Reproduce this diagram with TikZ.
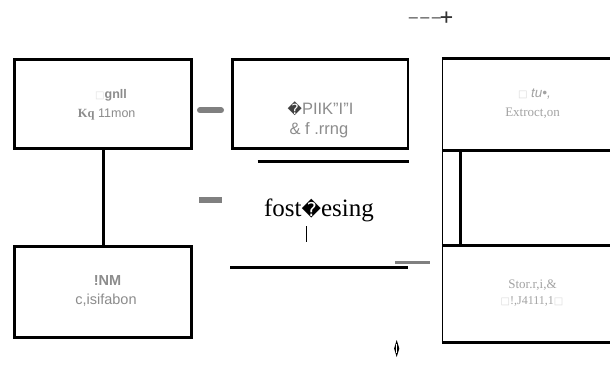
\documentclass[tikz,border=0pt]{standalone}
\usepackage{fontspec}
\setmainfont{Liberation Serif}
\setsansfont{Liberation Sans}
\newfontfamily\dejavu{DejaVu Sans}
\newfontfamily\dejavumono{DejaVu Sans Mono}
\definecolor{txtgray}{HTML}{8C8C8C}
\definecolor{lightgray}{HTML}{A2A2A2}
\definecolor{bargray}{HTML}{808080}
\begin{document}
\begin{tikzpicture}[x=1pt,y=-1pt,
  box/.style={draw=black, line width=3pt, inner sep=0pt, fill=white},
  boxtext/.style={anchor=base, inner sep=0pt, text=txtgray, font=\sffamily\fontsize{12.5}{15}\selectfont},
  coltext/.style={anchor=base, inner sep=0pt, text=lightgray, font=\rmfamily\fontsize{13}{15}\selectfont},
  thickline/.style={line width=3pt},
  thinline/.style={line width=1.2pt},
  graybar/.style={draw=bargray, line width=6pt}]
\useasboundingbox (0,0) rectangle (610,364);

% boxes
\node[box, minimum width=176.8pt, minimum height=88.6pt] (b1) at (103.1,104) {};
\node[box, minimum width=176.8pt, minimum height=91.4pt] (b4) at (103.1,292) {};
\node[box, line width=2.5pt, minimum width=175.3pt, minimum height=89.2pt] (b2) at (320.2,104.1) {};
\draw[thickline] (b1.south) -- (b4.north);

% box texts
\node[boxtext] (t1a) at (111,98) {{\dejavu\color{black!12}\fontsize{10}{12}\selectfont □}\bfseries gnll};
\node[boxtext] (t1b) at (106.7,117) {{\rmfamily\bfseries Kq} 11mon};
\node[boxtext, font=\sffamily\fontsize{14.5}{16}\selectfont] (t4a) at (107.5,285) {\bfseries !NM};
\node[boxtext, font=\sffamily\fontsize{14.5}{16}\selectfont] (t4b) at (106,304) {c,isifabon};
\node[boxtext, font=\sffamily\fontsize{16.5}{18}\selectfont] (t2a) at (320.5,114.5) {{\dejavu\color{black!75}\fontsize{14}{16}\selectfont �}PIIK"I"I};
\node[boxtext, font=\sffamily\fontsize{16.5}{18}\selectfont] (t2b) at (319,134.5) {\& f .rrng};

% gray bars
\coordinate (g1a) at (200,110.3); \coordinate (g1b) at (221,110.3);
\draw[graybar, line cap=round] (g1a) -- (g1b);
\coordinate (g2a) at (199,199.7); \coordinate (g2b) at (222,199.7);
\draw[graybar] (g2a) -- (g2b);
\coordinate (g3a) at (395,262.3); \coordinate (g3b) at (430,262.3);
\draw[draw=bargray, line width=2.8pt] (g3a) -- (g3b);

% middle lines
\coordinate (m1a) at (257.7,161); \coordinate (m1b) at (409,161);
\draw[thickline] (m1a) -- (m1b);
\coordinate (m2a) at (230,267.5); \coordinate (m2b) at (408.3,267.5);
\draw[thickline] (m2a) -- (m2b);

% processing text
\node[anchor=base, inner sep=0pt, font=\rmfamily\fontsize{25}{28}\selectfont] (proc) at (319,216) {fost{\dejavu\fontsize{19}{22}\selectfont �}esing};
\coordinate (v1a) at (306,226); \coordinate (v1b) at (306,242);
\draw[line width=0.8pt] (v1a) -- (v1b);

% small diamond glyph
\coordinate (dtop) at (396.7,340); \coordinate (dr) at (399.3,348.5);
\coordinate (dbot) at (396.7,357); \coordinate (dl) at (394.1,348.5);
\fill[black] (dtop) -- (dr) -- (dbot) -- (dl) -- cycle;
\draw[white, line width=0.6pt] (396.7,344) -- (396.7,353);

% right column
\coordinate (rl1) at (442.5,57); \coordinate (rl2) at (442.5,344.3);
\draw[thinline] (rl1) -- (rl2);
\coordinate (rt1) at (441.9,58.3); \coordinate (rt2) at (610,58.3);
\draw[thickline] (rt1) -- (rt2);
\coordinate (rm1) at (441.9,150.3); \coordinate (rm2) at (610,150.3);
\draw[thickline] (rm1) -- (rm2);
\coordinate (rv1) at (460,150.3); \coordinate (rv2) at (460,245.8);
\draw[thickline] (rv1) -- (rv2);
\coordinate (rh1) at (441.9,245.8); \coordinate (rh2) at (610,245.8);
\draw[thickline] (rh1) -- (rh2);
\coordinate (rb1) at (441.9,342.7); \coordinate (rb2) at (610,342.7);
\draw[thickline] (rb1) -- (rb2);

\node[coltext, font=\sffamily\itshape\fontsize{13.5}{15}\selectfont] (t3a) at (534.5,97) {{\dejavu\upshape\color{black!15}\fontsize{10}{12}\selectfont □} tu•,};
\node[coltext] (t3b) at (532.5,116) {Extroct,on};
\node[coltext] (t5a) at (532.5,288) {Stor.r,i,\&};
\node[coltext, font=\rmfamily\fontsize{12}{14}\selectfont] (t5b) at (532,304) {{\dejavu\color{black!15}\fontsize{10}{12}\selectfont □}!,J4111,1{\dejavu\color{black!15}\fontsize{10}{12}\selectfont □}};

% top mark
\node[anchor=base, inner sep=0pt, text=black!80, font=\dejavumono\fontsize{15}{18}\selectfont] (topmark) at (431,23) {–\kern2.5pt–\kern2.5pt–\kern-1pt{\fontsize{22}{22}\selectfont\raisebox{-1.2pt}{+}}};
\end{tikzpicture}
\end{document}
